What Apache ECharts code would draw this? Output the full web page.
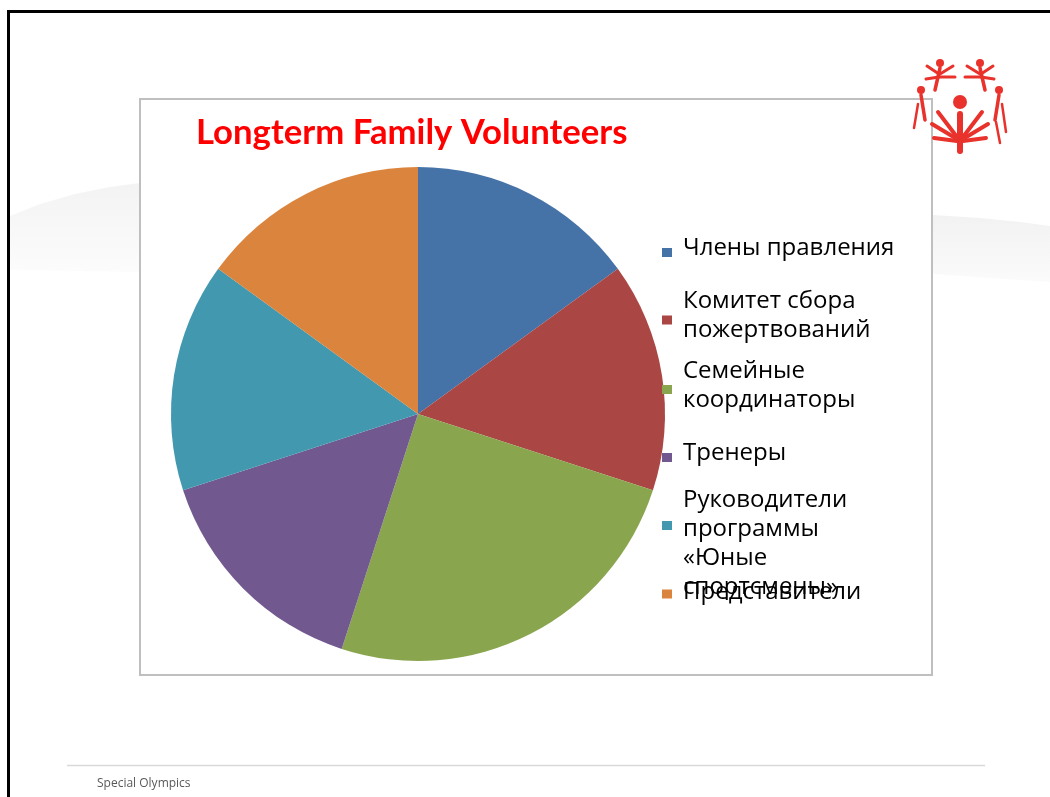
<!DOCTYPE html>
<html>
<head>
<meta charset="utf-8">
<script src="https://cdn.jsdelivr.net/npm/echarts@6/dist/echarts.min.js"></script>
<style>
  html, body { margin: 0; padding: 0; background: #fff; }
  #chart { width: 1050px; height: 797px; }
</style>
</head>
<body>
<div id="chart"></div>
<script>
// data
const categories = [
    'Члены правления',
    'Комитет сбора\nпожертвований',
    'Семейные\nкоординаторы',
    'Тренеры',
    'Руководители\nпрограммы\n«Юные\nспортсмены»',
    'Представители'
];
const shares = [15, 15, 25, 15, 15, 15];
const colors = ['#4572A7', '#AA4643', '#89A54E', '#71588F', '#4198AF', '#DB843D'];

// one legend per entry, so the entries can sit where the slide has them
const legendTops = [236, 289, 359, 441, 467, 580];
// blank space above / below the text, which moves the text against its square
const padAbove = [0, 0, 0, 0, 36, 0];
const padBelow = [9, 9, 8, 9, 0, 4];

const red = '#E8322B';
const logo = [
    { type: 'circle', shape: { cx: 960, cy: 102, r: 7 } },
    { type: 'line', shape: { x1: 960, y1: 114, x2: 960, y2: 151 }, w: 6 },
    { type: 'line', shape: { x1: 957, y1: 137, x2: 938, y2: 112 }, w: 4 },
    { type: 'line', shape: { x1: 957, y1: 139, x2: 932, y2: 124 }, w: 4 },
    { type: 'line', shape: { x1: 957, y1: 141, x2: 934, y2: 138 }, w: 4 },
    { type: 'line', shape: { x1: 963, y1: 137, x2: 982, y2: 112 }, w: 4 },
    { type: 'line', shape: { x1: 963, y1: 139, x2: 988, y2: 124 }, w: 4 },
    { type: 'line', shape: { x1: 963, y1: 141, x2: 986, y2: 138 }, w: 4 },
    { type: 'circle', shape: { cx: 940, cy: 63, r: 4 } },
    { type: 'line', shape: { x1: 940, y1: 68, x2: 935, y2: 90 }, w: 3.5 },
    { type: 'line', shape: { x1: 939, y1: 74, x2: 927, y2: 66 }, w: 3 },
    { type: 'line', shape: { x1: 940, y1: 74, x2: 953, y2: 66 }, w: 3 },
    { type: 'line', shape: { x1: 940, y1: 77, x2: 955, y2: 77 }, w: 3 },
    { type: 'line', shape: { x1: 939, y1: 77, x2: 926, y2: 79 }, w: 3 },
    { type: 'circle', shape: { cx: 980, cy: 63, r: 4 } },
    { type: 'line', shape: { x1: 980, y1: 68, x2: 985, y2: 90 }, w: 3.5 },
    { type: 'line', shape: { x1: 981, y1: 74, x2: 993, y2: 66 }, w: 3 },
    { type: 'line', shape: { x1: 980, y1: 74, x2: 967, y2: 66 }, w: 3 },
    { type: 'line', shape: { x1: 980, y1: 77, x2: 965, y2: 77 }, w: 3 },
    { type: 'line', shape: { x1: 981, y1: 77, x2: 994, y2: 79 }, w: 3 },
    { type: 'circle', shape: { cx: 921, cy: 90, r: 4 } },
    { type: 'line', shape: { x1: 921, y1: 95, x2: 925, y2: 120 }, w: 3.5 },
    { type: 'line', shape: { x1: 918, y1: 104, x2: 914, y2: 128 }, w: 2.5 },
    { type: 'circle', shape: { cx: 999, cy: 90, r: 4 } },
    { type: 'line', shape: { x1: 999, y1: 95, x2: 995, y2: 120 }, w: 3.5 },
    { type: 'line', shape: { x1: 1002, y1: 104, x2: 1006, y2: 132 }, w: 2.5 },
    { type: 'line', shape: { x1: 996, y1: 122, x2: 1000, y2: 143 }, w: 2.5 }
];

const chart = echarts.init(document.getElementById('chart'), null, { renderer: 'canvas' });

const option = {
    animation: false,
    title: {
        text: 'Longterm Family Volunteers',
        left: 196,
        top: 115,
        padding: 0,
        textStyle: { color: '#FF0000', fontFamily: 'Lato', fontWeight: 'bold', fontSize: 34.7 }
    },
    legend: categories.map((name, i) => ({
        data: [name],
        left: 662,
        top: legendTops[i],
        padding: 0,
        orient: 'vertical',
        icon: 'rect',
        itemWidth: 10,
        itemHeight: 9,
        itemGap: 0,
        selectedMode: false,
        formatter: (n) => {
            const body = n.split('\n').map(l => '{t|' + l + '}').join('\n');
            return (padAbove[i] ? '{a| }\n' : '') + body + (padBelow[i] ? '\n{b| }' : '');
        },
        textStyle: {
            padding: [0, 0, 0, 6],
            rich: {
                t: { fontFamily: 'Open Sans', fontSize: 24, lineHeight: 29, color: '#000' },
                a: { fontSize: 1, lineHeight: padAbove[i] || 1 },
                b: { fontSize: 1, lineHeight: padBelow[i] || 1 }
            }
        }
    })),
    graphic: [
        // faint background swooshes of the slide
        {
            type: 'polygon', z: -10,
            shape: { points: [[10, 216], [40, 204], [75, 194], [110, 187], [140, 183], [140, 272], [10, 270]] },
            style: { fill: new echarts.graphic.LinearGradient(0, 0, 0, 1, [{ offset: 0, color: '#f3f3f3' }, { offset: 1, color: '#fcfcfc' }]) }
        },
        {
            type: 'polygon', z: -10,
            shape: { points: [[933, 215], [980, 218], [1020, 222], [1050, 226], [1050, 282], [933, 274]] },
            style: { fill: new echarts.graphic.LinearGradient(0, 0, 0, 1, [{ offset: 0, color: '#f2f2f2' }, { offset: 1, color: '#fbfbfb' }]) }
        },
        // slide frame
        {
            type: 'rect', z: -5,
            shape: { x: 8.5, y: 11.5, width: 1200, height: 900 },
            style: { fill: 'none', stroke: '#000', lineWidth: 3 }
        },
        // chart area box
        {
            type: 'rect', z: -1,
            shape: { x: 140, y: 99, width: 792, height: 576 },
            style: { fill: '#fff', stroke: '#bfbfbf', lineWidth: 2 }
        },
        // footer
        {
            type: 'line',
            shape: { x1: 67, y1: 765.5, x2: 985, y2: 765.5 },
            style: { stroke: '#d9d9d9', lineWidth: 1.5 }
        },
        {
            type: 'text', left: 97, top: 778,
            style: { text: 'Special Olympics', fill: '#595959', font: '12px "Open Sans"' }
        },
        {
            type: 'group',
            children: logo.map(p => ({
                type: p.type,
                shape: p.shape,
                style: p.type === 'circle'
                    ? { fill: red }
                    : { stroke: red, lineWidth: p.w, lineCap: 'round' }
            }))
        }
    ],
    series: [
        {
            type: 'pie',
            center: [418, 414],
            radius: 247,
            startAngle: 90,
            clockwise: true,
            label: { show: false },
            labelLine: { show: false },
            emphasis: { disabled: true },
            itemStyle: { borderWidth: 0 },
            data: categories.map((name, i) => ({
                name: name,
                value: shares[i],
                itemStyle: { color: colors[i] }
            }))
        }
    ]
};

chart.setOption(option);
window.addEventListener('resize', chart.resize);
</script>
</body>
</html>
